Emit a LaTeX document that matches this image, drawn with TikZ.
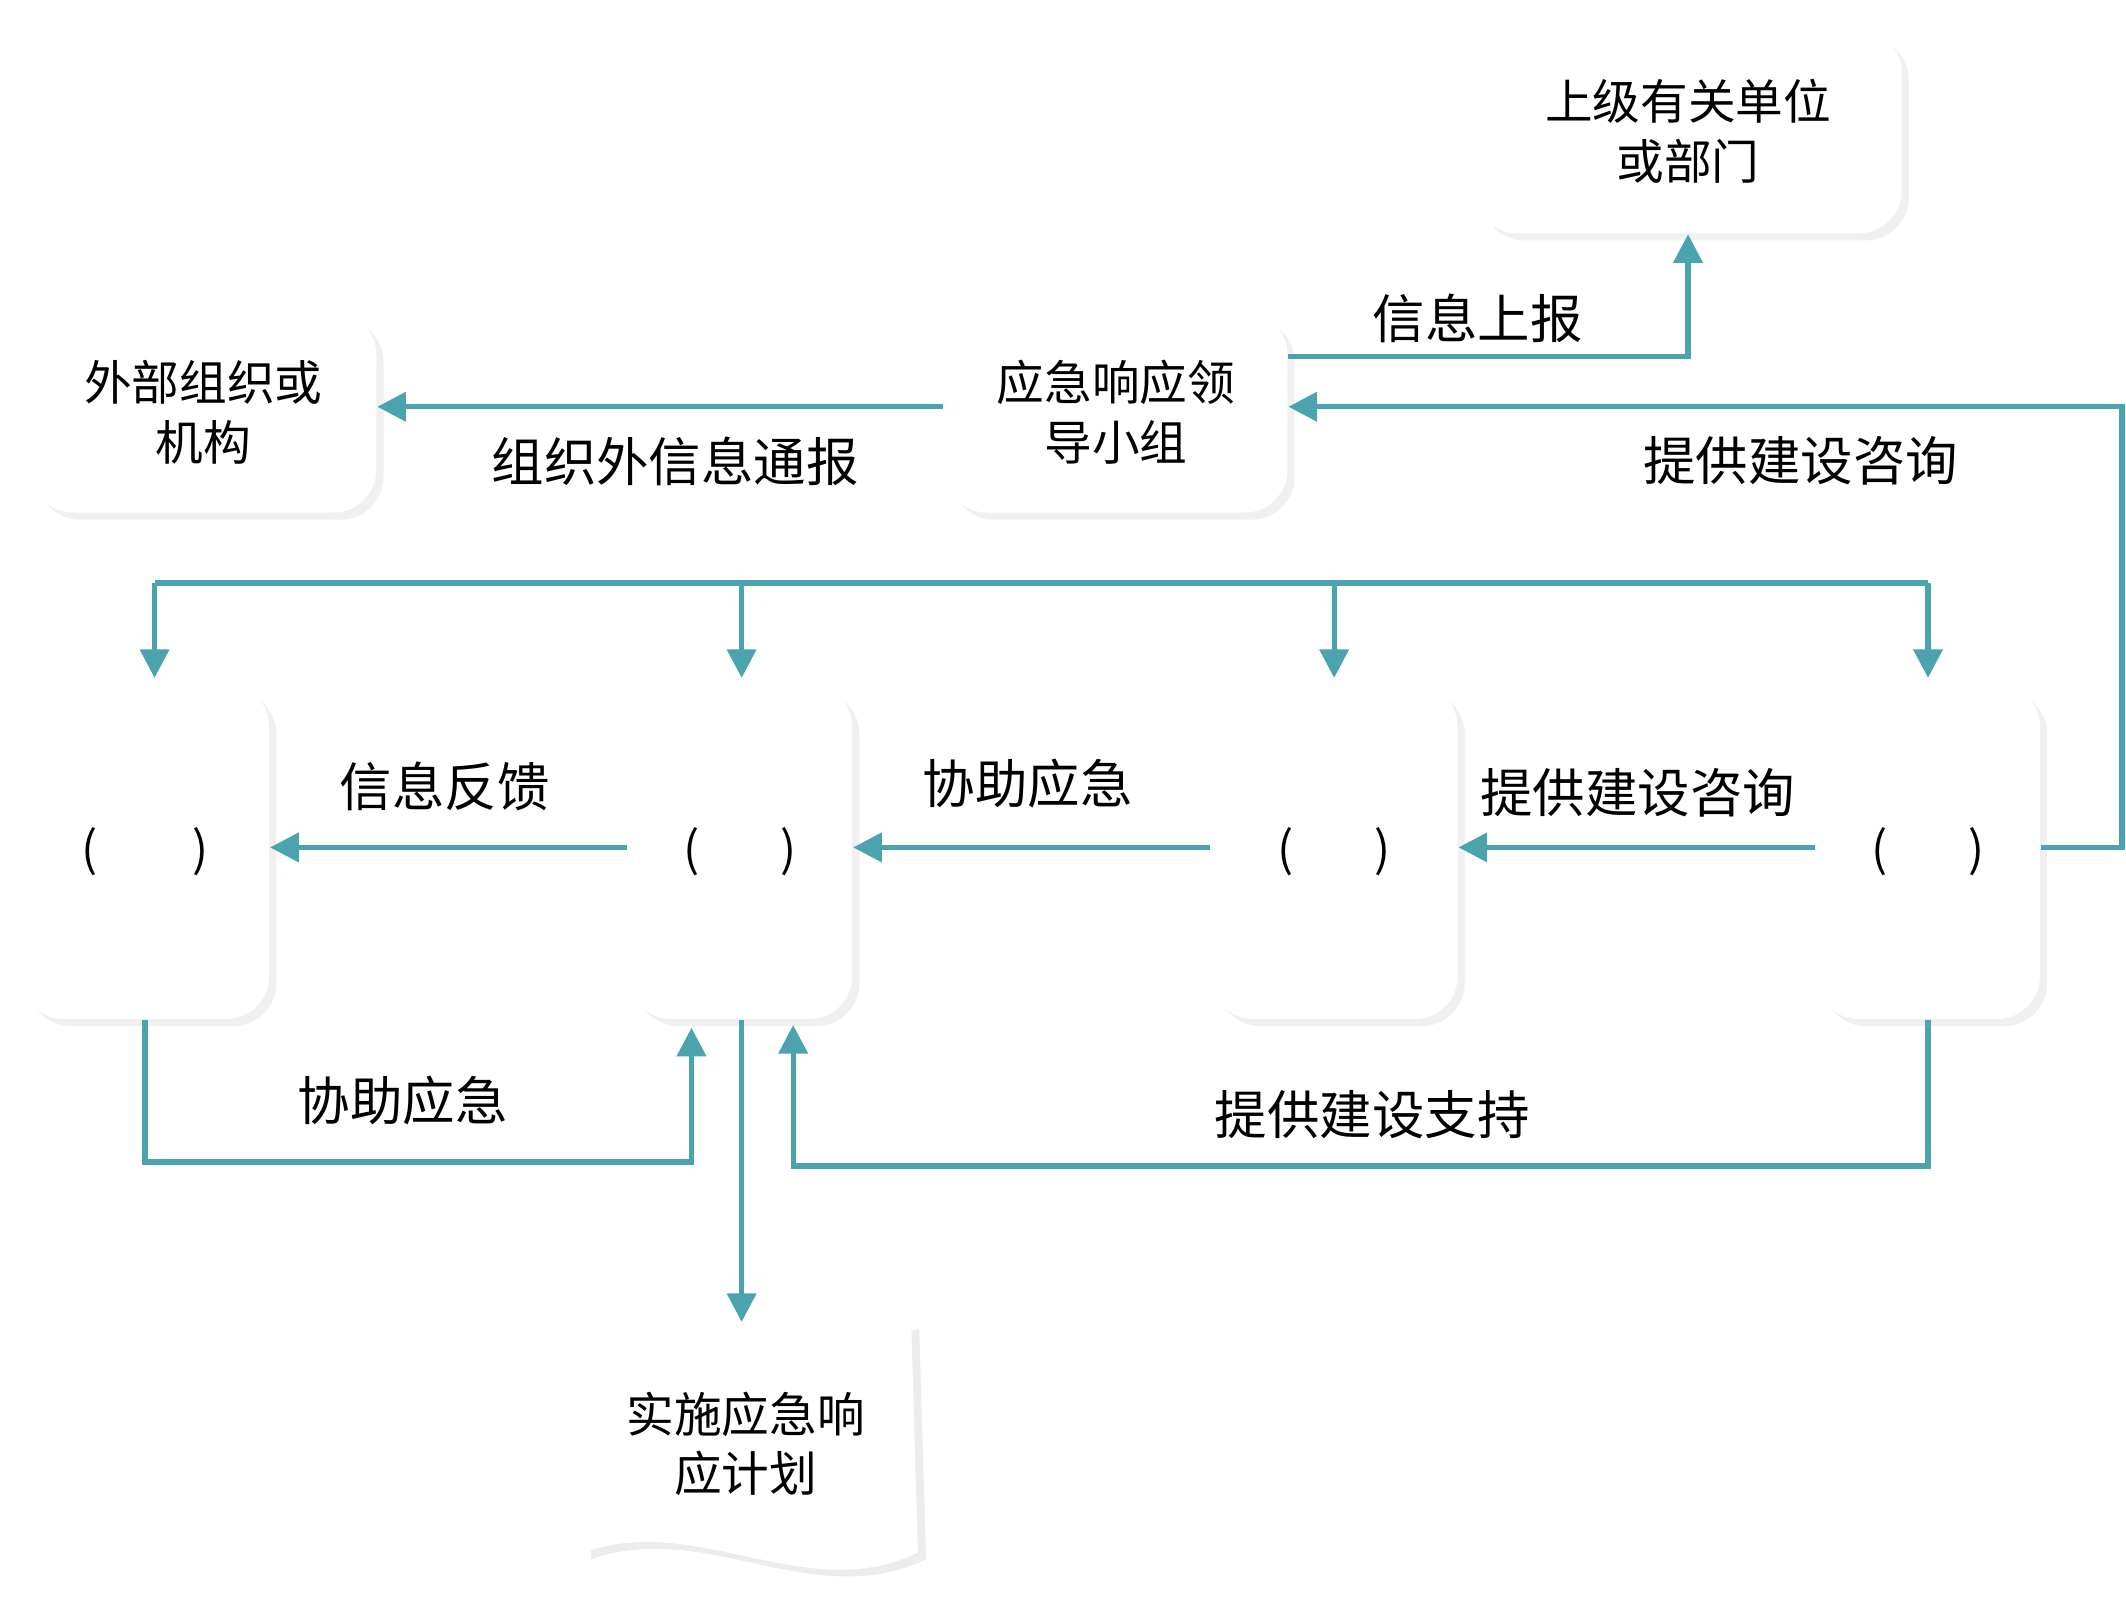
\documentclass[tikz,border=0pt]{standalone}
\usepackage{fontspec}
\setmainfont{Noto Sans CJK SC}
\usetikzlibrary{shadows,arrows.meta}
\definecolor{teal1}{HTML}{4AA3AD}
\begin{document}
\begin{tikzpicture}[x=0.01cm,y=-0.01cm,
  box/.style={draw=none,fill=white,rounded corners=9pt,drop shadow={shadow xshift=1.5pt,shadow yshift=-1.5pt,opacity=0.12,fill=gray},align=center,font=\fontsize{10pt}{12.5pt}\selectfont,inner sep=0pt},
  lab/.style={font=\fontsize{11pt}{13pt}\selectfont,inner sep=0pt},
  con/.style={draw=teal1,line width=1.1pt,-{Triangle[length=6pt,width=6pt]}},
  lin/.style={draw=teal1,line width=1.1pt}]
\useasboundingbox (0,0) rectangle (1568,1185);
\node[box,text width=3cm,minimum width=3.15cm,minimum height=1.5cm] (top) at (1245,97) {上级有关单位\\或部门};
\node[box,text width=2.5cm,minimum width=2.53cm,minimum height=1.48cm] (lead) at (823,304) {应急响应领\\导小组};
\node[box,text width=2.5cm,minimum width=2.55cm,minimum height=1.48cm] (out) at (150,304) {外部组织或\\机构};
\node[box,minimum width=1.83cm,minimum height=2.47cm] (A) at (107,628) {(\hspace{0.7cm})};
\node[box,minimum width=1.65cm,minimum height=2.47cm] (B) at (546,628) {(\hspace{0.6cm})};
\node[box,minimum width=1.82cm,minimum height=2.47cm] (C) at (984,628) {(\hspace{0.6cm})};
\node[box,minimum width=1.65cm,minimum height=2.47cm] (D) at (1422,628) {(\hspace{0.6cm})};
% document
\fill[gray,opacity=0.15] (431,960) .. controls (520,930) and (580,1010) .. (678,980) -- (683,1150) .. controls (600,1190) and (520,1120) .. (436,1150) -- cycle;
\fill[white] (425,955) .. controls (515,925) and (575,1005) .. (672,975) -- (677,1145) .. controls (595,1185) and (515,1115) .. (430,1145) -- cycle;
\node[align=center,font=\fontsize{10pt}{12.5pt}\selectfont] (doc) at (550,1065) {实施应急响\\应计划};
\coordinate (docTop) at (547,975);
% connectors
\draw[con] (lead.east |- 0,263) -- (1245,263) -- (top.south);
\node[lab] at (1090,235) {信息上报};
\draw[con] (lead.west |- 0,300) -- (out.east |- 0,300);
\node[lab] at (498,340) {组织外信息通报};
\draw[con] (D.east |- 0,625) -- (1565,625) -- (1565,300) -- (lead.east |- 0,300);
\node[lab] at (1328,340) {提供建设咨询};
\draw[lin] (114,430) -- (1422,430);
\foreach \x in {114,547,984,1422} \draw[con] (\x,430) -- (\x,500);
\draw[con] (B.west |- 0,625) -- (A.east |- 0,625);
\node[lab] at (328,580) {信息反馈};
\draw[con] (C.west |- 0,625) -- (B.east |- 0,625);
\node[lab] at (758,578) {协助应急};
\draw[con] (D.west |- 0,625) -- (C.east |- 0,625);
\node[lab] at (1208,585) {提供建设咨询};
\draw[con] (A.south) -- (107,857) -- (510,857) -- (510,758);
\node[lab] at (297,812) {协助应急};
\draw[con] (D.south) -- (1422,860) -- (585,860) -- (585,756);
\node[lab] at (1012,822) {提供建设支持};
\draw[con] (547,752) -- (docTop);
\end{tikzpicture}
\end{document}
